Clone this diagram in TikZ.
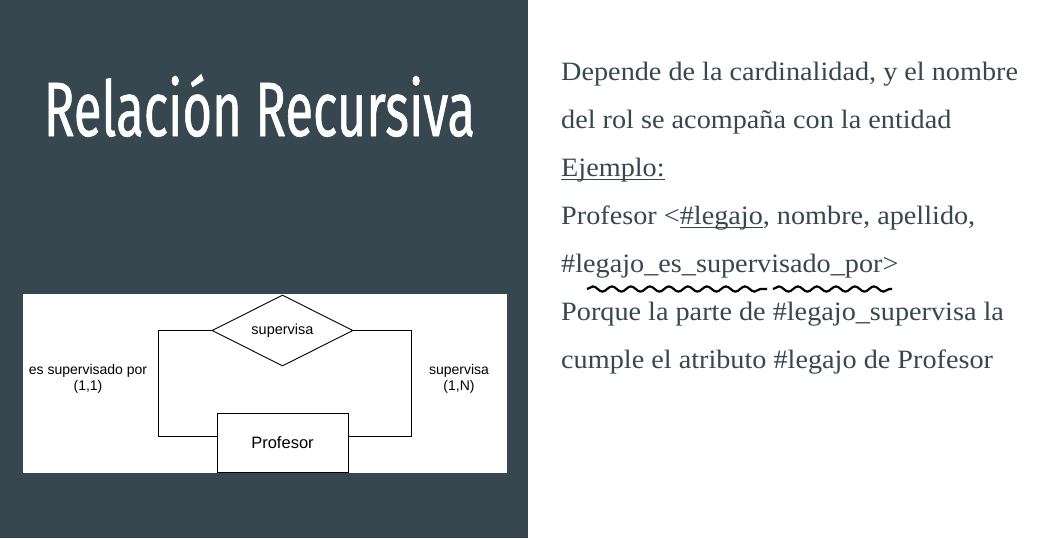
\documentclass[tikz,border=0pt]{standalone}
\usepackage{fontspec}
\setmainfont[FakeStretch=1.065]{Liberation Serif}
\newfontfamily\titlefont[FakeStretch=0.66, FakeBold=0.7]{Fira Sans}
\newfontfamily\diagfont{Liberation Sans}
\usetikzlibrary{shapes.geometric,decorations.pathmorphing}
\definecolor{slate}{HTML}{37474F}

% underline at a fixed depth, crossing the descenders
\newcommand{\lineunder}[1]{\setbox0\hbox{#1}\rlap{\rule[-4pt]{\wd0}{1.3pt}}\box0}

\tikzset{
  entity/.style={draw, line width=0.9pt, minimum width=131pt, minimum height=59pt, inner sep=0pt,
    font=\diagfont\fontsize{16.5}{16.5}\selectfont},
  relation/.style={diamond, draw, line width=0.9pt, aspect=2, minimum width=141pt, minimum height=71pt,
    inner sep=0pt, font=\diagfont\fontsize{14.5}{14.5}\selectfont},
  role/.style={align=center, font=\diagfont\fontsize{14}{16.5}\selectfont},
  link/.style={line width=0.9pt},
  bodyline/.style={anchor=base west, inner sep=0pt, text=slate, font=\fontsize{26.5}{26.5}\selectfont},
  squiggle/.style={line width=2.2pt, decorate, decoration={snake, amplitude=2.6pt, segment length=19pt}}
}

\begin{document}
\begin{tikzpicture}[x=1pt, y=-1pt]

    \useasboundingbox (0,0) rectangle (1041,538);

    % Panels
    \fill[white] (0,0) rectangle (1041,538);
    \fill[slate] (0,0) rectangle (528,538);

    % Title
    \node[anchor=base, inner sep=0pt, text=white, font=\titlefont\fontsize{77}{77}\selectfont]
        (title) at (259.5,136) {Relación Recursiva};

    % Diagram
    \fill[white] (23,294) rectangle (507,473);
    \node[relation] (sup) at (282.5,330.5) {supervisa};
    \node[entity] (prof) at (282.5,442.5) {Profesor};
    \coordinate (lcorner) at (158,436);
    \coordinate (rcorner) at (411,436);
    \draw[link] (sup.west) -| (lcorner) -- (lcorner -| prof.west);
    \draw[link] (sup.east) -| (rcorner) -- (rcorner -| prof.east);
    \node[role] (lrole) at (88,379) {es supervisado por\\(1,1)};
    \node[role] (rrole) at (459,379) {supervisa\\(1,N)};

    % Text
    \node[bodyline] (t1) at (561,80) {Depende de la cardinalidad, y el nombre};
    \node[bodyline] (t2) at (561,128) {del rol se acompaña con la entidad};
    \node[bodyline] (t3) at (561,176) {\lineunder{Ejemplo:}};
    \node[bodyline] (t4) at (561,224) {Profesor <\lineunder{\#legajo}, nombre, apellido,};
    \node[bodyline] (t5) at (561,272) {\#legajo\_es\_supervisado\_por>};
    \node[bodyline] (t6) at (561,320) {Porque la parte de \#legajo\_supervisa la};
    \node[bodyline] (t7) at (561,368) {cumple el atributo \#legajo de Profesor};

    % Spelling marks
    \draw[squiggle] (587,289) -- (767,289);
    \draw[squiggle] (773,289) -- (892,289);

\end{tikzpicture}
\end{document}
